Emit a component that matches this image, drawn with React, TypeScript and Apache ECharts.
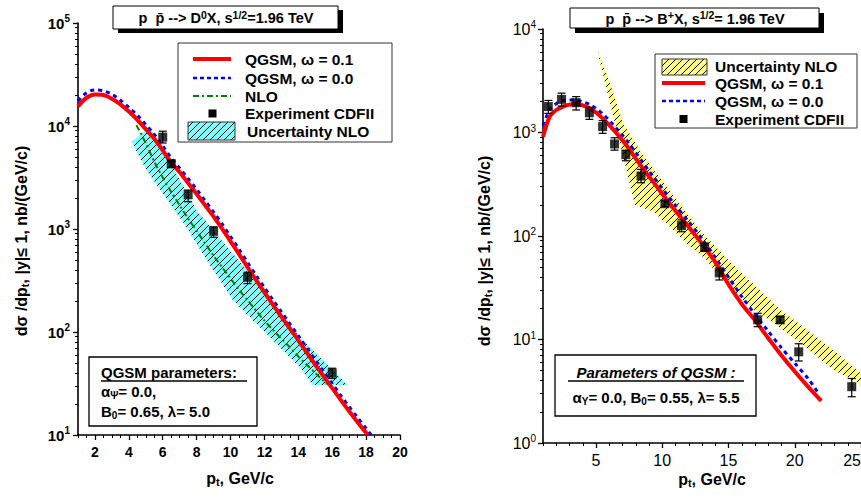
import React, { useEffect, useRef } from 'react';
import * as echarts from 'echarts';

const FONT = '"Liberation Sans", Arial, Helvetica, sans-serif';

// ---------------- Left panel: p p̄ -> D0 X ----------------
const d0RedX = [1, 1.5, 2, 2.5, 3, 3.5, 4, 4.5, 5, 5.5, 6, 6.5, 7, 7.5, 8, 8.5, 9, 9.5, 10, 10.5, 11, 11.5, 12, 12.5, 13, 13.5, 14, 14.5, 15, 15.5, 16, 16.5, 17, 17.5, 18, 18.1];
const d0RedY = [15500, 18800, 20200, 20000, 18400, 16200, 13800, 11500, 9300, 7500, 5800, 4400, 3550, 2790, 2190, 1700, 1320, 1010, 760, 570, 427, 320, 243, 184, 141, 108, 83, 63, 48, 37, 28.5, 21.9, 17.0, 13.3, 10.5, 10.0];
const d0BlueX = [1, 1.5, 2, 2.5, 3, 3.5, 4, 4.5, 5, 5.5, 6, 6.5, 7, 7.5, 8, 8.5, 9, 9.5, 10, 10.5, 11, 11.5, 12, 12.5, 13, 13.5, 14, 14.5, 15, 15.5, 16, 16.5, 17, 17.5, 18, 18.3];
const d0BlueY = [17500, 21000, 22400, 22000, 20300, 17800, 15200, 12700, 10300, 8300, 6400, 4900, 3900, 3080, 2420, 1880, 1460, 1120, 845, 635, 475, 356, 270, 205, 157, 120, 92, 70, 53.5, 41, 31.5, 24.3, 18.8, 14.7, 11.6, 10.0];
const d0NloX = [4.45, 5, 5.5, 6, 6.5, 7, 7.5, 8, 8.5, 9, 9.5, 10, 10.5, 11, 11.5, 12, 12.5, 13, 13.5, 14, 14.5, 15, 15.5, 15.8];
const d0NloY = [10200, 6800, 4500, 3170, 2290, 1700, 1260, 960, 724, 550, 426, 331, 257, 204, 162, 129, 105, 86, 71, 58, 48, 40, 33.5, 30.5];
const d0BandUpX = [4.16, 5.24, 6.02, 6.9, 7.98, 9.4, 11.12, 12.69, 14.06, 15.43, 16.9];
const d0BandUpY = [7050, 9840, 5850, 3220, 1530, 800, 371, 176, 90, 53.5, 30.5];
const d0BandLoX = [4.16, 5.04, 6.41, 7.39, 8.47, 10.14, 12.1, 14.06, 14.84];
const d0BandLoY = [7050, 3740, 1780, 1050, 538, 205, 97, 46, 30.5];
const d0ExpX = [6.0, 6.5, 7.5, 9.0, 11.0, 16.0];
const d0ExpY = [7800, 4300, 2150, 950, 340, 40];
const d0ExpLo = [6840, 3950, 1840, 830, 295, 35.5];
const d0ExpHi = [8900, 4650, 2390, 1050, 380, 44.5];
const d0XTicks = [2, 4, 6, 8, 10, 12, 14, 16, 18, 20];

// ---------------- Right panel: p p̄ -> B+ X ----------------
const bRedX = [1, 1.5, 2, 2.5, 3, 3.5, 4, 4.5, 5, 5.5, 6, 6.5, 7, 7.5, 8, 8.5, 9, 9.5, 10, 11, 12, 13, 14, 15, 16, 17, 18, 19, 20, 21, 22];
const bRedY = [910, 1420, 1650, 1780, 1860, 1880, 1830, 1720, 1560, 1370, 1180, 1000, 840, 690, 560, 455, 375, 310, 255, 175, 122, 84, 56, 34, 22, 15.3, 10.3, 7.0, 4.9, 3.5, 2.55];
const bBlueX = [1, 1.5, 2, 2.5, 3, 3.5, 4, 4.5, 5, 5.5, 6, 6.5, 7, 7.5, 8, 8.5, 9, 9.5, 10, 11, 12, 13, 14, 15, 16, 17, 18, 19, 20, 21, 21.8];
const bBlueY = [1170, 1650, 1900, 2030, 2060, 2050, 1980, 1870, 1710, 1510, 1310, 1110, 940, 780, 640, 520, 425, 350, 288, 197, 137, 94, 62, 40, 26, 17.5, 12, 8.3, 5.9, 4.2, 3.0];
const bBandUpX = [5.05, 6.05, 7.05, 8.31, 9.57, 11.08, 13.0, 14.96, 16.6, 18.94, 20.4, 22.88, 24.64, 25];
const bBandUpY = [6500, 2990, 1230, 675, 405, 223, 108, 59, 37, 19.3, 14, 8.0, 5.1, 4.7];
const bBandLoX = [5.05, 6.43, 7.05, 7.93, 9.31, 10.32, 11.83, 13.34, 14.34, 15.6, 16.6, 18.94, 21.6, 22.88, 24.64, 25];
const bBandLoY = [6500, 1230, 590, 200, 172, 132, 85, 59, 40, 28, 20.8, 12.9, 7.0, 5.1, 3.9, 3.6];
const bExpX = [1.4, 2.4, 3.5, 4.5, 5.5, 6.4, 7.25, 8.4, 10.2, 11.45, 13.2, 14.3, 17.2, 18.9, 20.3, 24.3];
const bExpY = [1780, 2090, 1940, 1550, 1140, 775, 610, 380, 205, 126, 78, 44, 15.5, 15.5, 7.6, 3.5];
const bExpLo = [1530, 1800, 1650, 1340, 982, 675, 533, 327, 193, 110, 71, 37.6, 13.3, 14.4, 6.2, 2.8];
const bExpHi = [2040, 2400, 2220, 1750, 1300, 890, 675, 440, 218, 143, 85, 49, 17.9, 16.6, 9.1, 4.2];
const bXTicks = [5, 10, 15, 20, 25];

const zip = (xs: number[], ys: number[]) => xs.map((x, i) => [x, ys[i]]);

function makeHatch(bg: string) {
  const size = 7;
  const c = document.createElement('canvas');
  c.width = size;
  c.height = size;
  const ctx = c.getContext('2d')!;
  ctx.fillStyle = bg;
  ctx.fillRect(0, 0, size, size);
  ctx.strokeStyle = '#000';
  ctx.lineWidth = 1;
  ctx.beginPath();
  ctx.moveTo(0, size);
  ctx.lineTo(size, 0);
  ctx.moveTo(-1, 1);
  ctx.lineTo(1, -1);
  ctx.moveTo(size - 1, size + 1);
  ctx.lineTo(size + 1, size - 1);
  ctx.stroke();
  return { image: c, repeat: 'repeat', imageWidth: size, imageHeight: size } as any;
}

function bandSeries(up: number[][], lo: number[][], fill: any, xi: number) {
  const poly = [...up, ...lo.slice().reverse()];
  return {
    type: 'custom',
    xAxisIndex: xi,
    yAxisIndex: xi,
    z: 1,
    silent: true,
    data: poly,
    encode: { x: 0, y: 1 },
    renderItem: (params: any, api: any) => {
      if (params.dataIndex !== 0) return null;
      const pts = poly.map((p) => api.coord(p));
      return { type: 'polygon', shape: { points: pts }, style: { fill, stroke: 'none' } };
    },
  };
}

function errSeries(xs: number[], ys: number[], los: number[], his: number[], xi: number) {
  return {
    type: 'custom',
    xAxisIndex: xi,
    yAxisIndex: xi,
    z: 6,
    silent: true,
    data: xs.map((x, i) => [x, ys[i], los[i], his[i]]),
    encode: { x: 0, y: 1 },
    renderItem: (params: any, api: any) => {
      const x = api.value(0);
      const a = api.coord([x, api.value(2)]);
      const b = api.coord([x, api.value(3)]);
      const w = 4;
      const st = { stroke: '#000', lineWidth: 1.2 };
      return {
        type: 'group',
        children: [
          { type: 'line', shape: { x1: a[0], y1: a[1], x2: b[0], y2: b[1] }, style: st },
          { type: 'line', shape: { x1: a[0] - w, y1: a[1], x2: a[0] + w, y2: a[1] }, style: st },
          { type: 'line', shape: { x1: b[0] - w, y1: b[1], x2: b[0] + w, y2: b[1] }, style: st },
        ],
      };
    },
  };
}

function lineSeries(data: number[][], color: string, width: number, type: any, xi: number, z: number) {
  return {
    type: 'line',
    xAxisIndex: xi,
    yAxisIndex: xi,
    data,
    showSymbol: false,
    symbol: 'none',
    smooth: 0.3,
    z,
    silent: true,
    lineStyle: { color, width, type },
  };
}

function pointSeries(xs: number[], ys: number[], xi: number) {
  return {
    type: 'scatter',
    xAxisIndex: xi,
    yAxisIndex: xi,
    data: zip(xs, ys),
    symbol: 'rect',
    symbolSize: 9,
    z: 7,
    silent: true,
    itemStyle: { color: '#000' },
  };
}

export default function App() {
  const ref = useRef<HTMLDivElement>(null);
  useEffect(() => {
    if (!ref.current) return;
    const chart = echarts.init(ref.current, undefined, { renderer: 'svg' });
    const cyan = makeHatch('#80ffff');
    const yellow = makeHatch('#ffff80');

    const leftMinorX: number[] = [];
    for (let v = 1; v <= 20; v += 0.5) if (v % 2 !== 0) leftMinorX.push(v);
    const rightMinorX: number[] = [];
    for (let v = 1; v <= 25; v += 1) if (v % 5 !== 0) rightMinorX.push(v);
    const minorLog = (lo: number, hi: number) => {
      const out: number[] = [];
      for (let d = lo; d < hi; d *= 10) for (let k = 2; k <= 9; k++) out.push(k * d);
      return out;
    };

    const axLine = { show: true, lineStyle: { color: '#000', width: 1.6 } };
    const supFmt = (v: number) => `{b|10}{s|${Math.round(Math.log10(v))}}`;
    const richY = (bold: boolean, fs: number) => ({
      b: { fontSize: fs, fontWeight: bold ? 'bold' : 'normal', fontFamily: FONT, color: '#000' },
      s: { fontSize: 10, fontWeight: bold ? 'bold' : 'normal', fontFamily: FONT, color: '#000', padding: [0, 0, 9, 0] },
    });

    const xMain = (gi: number, min: number, max: number, ticks: number[], bold: boolean, fs: number, margin: number, lastAlign: string | null) => ({
      type: 'value',
      gridIndex: gi,
      min,
      max,
      position: 'bottom',
      axisLine: axLine,
      axisTick: { show: true, inside: false, length: 5, customValues: ticks, lineStyle: { color: '#000', width: 1.3 } },
      axisLabel: {
        customValues: ticks,
        margin,
        color: '#000',
        fontSize: fs,
        fontWeight: bold ? 'bold' : 'normal',
        fontFamily: FONT,
        alignMaxLabel: lastAlign,
      },
      splitLine: { show: false },
    });
    const xMinor = (gi: number, min: number, max: number, vals: number[]) => ({
      type: 'value',
      gridIndex: gi,
      min,
      max,
      position: 'bottom',
      axisLine: { show: false },
      axisTick: { show: true, inside: false, length: 3, customValues: vals, lineStyle: { color: '#000', width: 1 } },
      axisLabel: { show: false },
      splitLine: { show: false },
    });
    const yMain = (gi: number, min: number, max: number, bold: boolean, fs: number, margin: number) => ({
      type: 'log',
      logBase: 10,
      gridIndex: gi,
      min,
      max,
      position: 'left',
      axisLine: axLine,
      axisTick: { show: true, inside: false, length: 5, lineStyle: { color: '#000', width: 1.3 } },
      axisLabel: { formatter: supFmt, margin, rich: richY(bold, fs) },
      splitLine: { show: false },
      minorTick: { show: false },
    });
    const yMinor = (gi: number, min: number, max: number) => ({
      type: 'log',
      logBase: 10,
      gridIndex: gi,
      min,
      max,
      position: 'left',
      axisLine: { show: false },
      axisTick: { show: true, inside: false, length: 3, customValues: minorLog(min, max), lineStyle: { color: '#000', width: 1 } },
      axisLabel: { show: false },
      splitLine: { show: false },
    });

    const txt = (x: number, y: number, text: string, extra: any = {}, rich: any = undefined, rotation = 0) => ({
      type: 'text',
      x,
      y,
      rotation,
      z: 100,
      silent: true,
      style: {
        text,
        fontSize: 15,
        fontWeight: 'bold',
        fontFamily: FONT,
        fill: '#000',
        align: 'left',
        verticalAlign: 'middle',
        rich,
        ...extra,
      },
    });
    const rect = (x: number, y: number, w: number, h: number, style: any) => ({
      type: 'rect',
      z: 90,
      silent: true,
      shape: { x, y, width: w, height: h },
      style,
    });
    const seg = (x1: number, y1: number, x2: number, y2: number, style: any) => ({
      type: 'line',
      z: 95,
      silent: true,
      shape: { x1, y1, x2, y2 },
      style,
    });

    const supRich = (fs: number) => ({
      sup: { fontSize: fs - 4, fontWeight: 'bold', fontFamily: FONT, fill: '#000', padding: [0, 0, 7, 0] },
      sub: { fontSize: fs - 5, fontWeight: 'bold', fontFamily: FONT, fill: '#000', padding: [8, 0, 0, 0] },
    });

    const redSt = { stroke: '#ff0000', lineWidth: 4 };
    const blueSt = { stroke: '#0000ff', lineWidth: 2.5, lineDash: [4, 3] };
    const greenSt = { stroke: '#008000', lineWidth: 2, lineDash: [6, 3, 2, 3] };

    const graphic: any[] = [
      // Left title
      rect(118, 10, 225, 23, { fill: '#000' }),
      rect(113, 6, 225, 23, { fill: '#fff', stroke: '#000', lineWidth: 1 }),
      txt(226, 18, 'p  p\u0304 --> D{sup|0}X, s{sup|1/2}=1.96 TeV', { fontSize: 14.5, align: 'center' }, supRich(14.5)),
      // Right title
      rect(575, 13, 249, 20, { fill: '#000' }),
      rect(570, 8, 249, 20, { fill: '#fff', stroke: '#000', lineWidth: 1 }),
      txt(695, 18.5, 'p  p\u0304 --> B{sup|+}X, s{sup|1/2}= 1.96 TeV', { fontSize: 14.5, align: 'center' }, supRich(14.5)),

      // Left legend
      rect(178, 43, 214, 99, { fill: '#fff', stroke: '#333', lineWidth: 1 }),
      seg(193, 59, 231, 59, redSt),
      txt(245, 59, 'QGSM, \u03c9 = 0.1', { fontSize: 15.5 }),
      seg(193, 78, 231, 78, blueSt),
      txt(245, 78, 'QGSM, \u03c9 = 0.0', { fontSize: 15.5 }),
      seg(193, 96, 231, 96, greenSt),
      txt(245, 96, 'NLO', { fontSize: 15.5 }),
      rect(208.5, 109.5, 8, 8, { fill: '#000' }),
      txt(245, 113, 'Experiment CDFII', { fontSize: 15.5 }),
      rect(188, 122, 47, 18, { fill: cyan, stroke: '#333', lineWidth: 1 }),
      txt(247, 131, 'Uncertainty NLO', { fontSize: 15.5 }),

      // Right legend
      rect(655, 54, 202, 74, { fill: '#fff', stroke: '#333', lineWidth: 1 }),
      rect(662, 59, 45, 16, { fill: yellow, stroke: '#333', lineWidth: 1 }),
      txt(715, 66, 'Uncertainty NLO', { fontSize: 15.5 }),
      seg(662, 83, 705, 83, redSt),
      txt(715, 83, 'QGSM, \u03c9 = 0.1', { fontSize: 15.5 }),
      seg(662, 101, 705, 101, blueSt),
      txt(715, 101, 'QGSM, \u03c9 = 0.0', { fontSize: 15.5 }),
      rect(679.5, 115, 8, 8, { fill: '#000' }),
      txt(715, 119, 'Experiment CDFII', { fontSize: 15.5 }),

      // Left parameter box
      rect(89, 357, 168, 69, { fill: '#fff', stroke: '#000', lineWidth: 1.3 }),
      txt(101, 372, 'QGSM parameters:'),
      seg(101, 381, 247, 381, { stroke: '#000', lineWidth: 1.5 }),
      txt(101, 391, '\u03b1{sub|\u03a8}= 0.0,', {}, supRich(15)),
      txt(101, 411, 'B{sub|0}= 0.65, \u03bb= 5.0', {}, supRich(15)),

      // Right parameter box
      rect(555, 355, 201, 61, { fill: '#fff', stroke: '#000', lineWidth: 1.3 }),
      txt(656, 372, 'Parameters of QGSM :', { align: 'center', fontStyle: 'italic' }),
      seg(568, 381, 744, 381, { stroke: '#000', lineWidth: 1.5 }),
      txt(656, 397, '\u03b1{sub|Y}= 0.0, B{sub|0}= 0.55, \u03bb= 5.5', { align: 'center' }, supRich(15)),

      // Axis titles
      txt(240, 478, 'p{sub|t}, GeV/c', { fontSize: 16, align: 'center' }, supRich(16)),
      txt(712, 479, 'p{sub|t}, GeV/c', { fontSize: 16, align: 'center' }, supRich(16)),
      txt(21, 241, 'd\u03c3 /dp{sub|t}, |y|\u2264 1, nb/(GeV/c)', { fontSize: 16, align: 'center' }, supRich(16), Math.PI / 2),
      txt(484, 251, 'd\u03c3 /dp{sub|t}, |y|\u2264 1, nb/(GeV/c)', { fontSize: 16, align: 'center' }, supRich(16), Math.PI / 2),
    ];

    const option: any = {
      animation: false,
      backgroundColor: '#fff',
      grid: [
        { left: 78, top: 23, width: 322, height: 412, containLabel: false, outerBoundsMode: 'none' },
        { left: 543, top: 29, width: 318, height: 414, containLabel: false, outerBoundsMode: 'none' },
      ],
      xAxis: [
        xMain(0, 1, 20, d0XTicks, true, 14, 10, null),
        xMinor(0, 1, 20, leftMinorX),
        xMain(1, 1, 25, bXTicks, false, 16, 9, 'right'),
        xMinor(1, 1, 25, rightMinorX),
      ],
      yAxis: [
        yMain(0, 10, 100000, true, 15, 8),
        yMinor(0, 10, 100000),
        yMain(1, 1, 10000, false, 16, 7),
        yMinor(1, 1, 10000),
      ],
      series: [
        bandSeries(zip(d0BandUpX, d0BandUpY), zip(d0BandLoX, d0BandLoY), cyan, 0),
        lineSeries(zip(d0NloX, d0NloY), '#008000', 2, [6, 3, 2, 3], 0, 2),
        lineSeries(zip(d0BlueX, d0BlueY), '#0000ff', 3, [4, 4], 0, 3),
        lineSeries(zip(d0RedX, d0RedY), '#ff0000', 4, 'solid', 0, 4),
        errSeries(d0ExpX, d0ExpY, d0ExpLo, d0ExpHi, 0),
        pointSeries(d0ExpX, d0ExpY, 0),

        bandSeries(zip(bBandUpX, bBandUpY), zip(bBandLoX, bBandLoY), yellow, 2),
        lineSeries(zip(bBlueX, bBlueY), '#0000ff', 3, [4, 4], 2, 3),
        lineSeries(zip(bRedX, bRedY), '#ff0000', 4, 'solid', 2, 4),
        errSeries(bExpX, bExpY, bExpLo, bExpHi, 2),
        pointSeries(bExpX, bExpY, 2),
      ],
      graphic,
    };
    chart.setOption(option);
    return () => chart.dispose();
  }, []);
  return (
    <div
      ref={ref}
      style={{ position: 'fixed', left: 0, top: 0, width: 861, height: 498, background: '#fff' }}
    />
  );
}
